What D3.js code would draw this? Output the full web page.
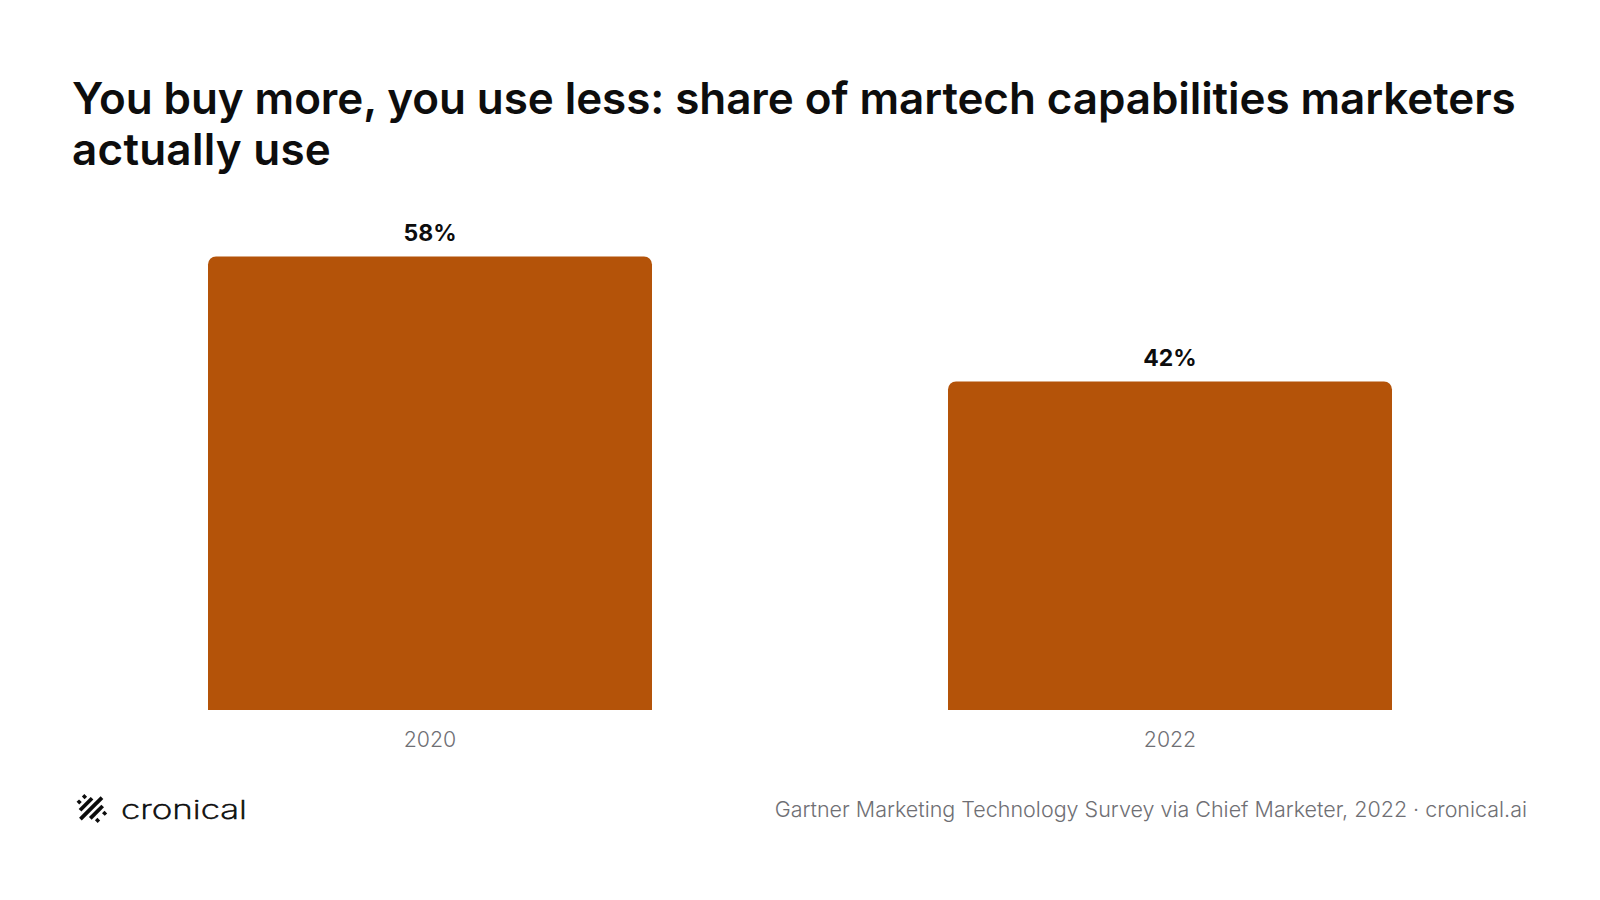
<!DOCTYPE html>
<html>
<head>
<meta charset="utf-8">
<script src="https://cdn.jsdelivr.net/npm/d3@7"></script>
<style>
  html, body { margin: 0; padding: 0; background: #fff; }
  svg { display: block; }
  text { font-family: Inter, "Noto Sans", sans-serif; }
</style>
</head>
<body>
<svg id="chart" width="1600" height="900"></svg>
<script>
const titleLines = ["You buy more, you use less: share of martech capabilities marketers", "actually use"];
const years = ["2020", "2022"];
const shares = [58, 42];
const sourceNote = "Gartner Marketing Technology Survey via Chief Marketer, 2022 · cronical.ai";
const brandName = "cronical";

const svg = d3.select("#chart");
svg.append("rect").attr("width", 1600).attr("height", 900).attr("fill", "#fff");

const x = d3.scaleBand().domain(years).range([60, 1540]).paddingInner(0.4).paddingOuter(0.2);
const y = d3.scaleLinear().domain([0, 58]).range([710, 256.4]);

// Title
svg.append("g").selectAll("text").data(titleLines).join("text")
  .attr("x", 72)
  .attr("y", (d, i) => 114 + i * 51)
  .attr("font-size", 44)
  .attr("font-weight", 600)
  .attr("letter-spacing", (d, i) => i ? "0.25" : "-0.08")
  .attr("fill", "#0d0d0d")
  .text(d => d);

// Bars with rounded top corners and a square base
const r = 8;
svg.append("g").selectAll("path").data(years).join("path")
  .attr("fill", "#b45309")
  .attr("d", (d, i) => {
    const p = d3.path();
    const l = x(d), w = x.bandwidth(), t = y(shares[i]), b = y(0);
    p.moveTo(l, b);
    p.lineTo(l, t + r);
    p.arcTo(l, t, l + r, t, r);
    p.lineTo(l + w - r, t);
    p.arcTo(l + w, t, l + w, t + r, r);
    p.lineTo(l + w, b);
    p.closePath();
    return p.toString();
  });

// Value labels
svg.append("g").selectAll("text").data(years).join("text")
  .attr("x", d => x(d) + x.bandwidth() / 2)
  .attr("y", (d, i) => y(shares[i]) - 15.5)
  .attr("text-anchor", "middle")
  .attr("font-size", 23)
  .attr("font-weight", 700)
  .attr("fill", "#0d0d0d")
  .text((d, i) => shares[i] + "%");

// Category axis, labels only
const axis = svg.append("g")
  .attr("transform", "translate(0,710)")
  .call(d3.axisBottom(x).tickSize(0).tickPadding(22));
axis.select(".domain").remove();
axis.selectAll("text")
  .attr("font-size", 21.3)
  .attr("font-weight", 300)
  .attr("font-family", "Inter, sans-serif")
  .attr("fill", "#6f6f74");

// Source line
svg.append("text")
  .attr("x", 1527).attr("y", 817)
  .attr("text-anchor", "end")
  .attr("font-size", 21.5)
  .attr("font-weight", 300)
  .attr("fill", "#6f6f74")
  .text(sourceNote);

// Brand mark: diagonal hatch, long strokes in the middle, dots toward the corners
const mark = svg.append("g")
  .attr("transform", "translate(91,808.5) rotate(-45)")
  .attr("stroke", "#0d0d0d").attr("stroke-width", 3.8).attr("fill", "none");
const hatch = [
  [-13, -5.5, -2], [-13, 2, 5.5],
  [-6.5, -9, 8],
  [0, -15, 15.5],
  [6.5, -7.5, 10],
  [13, -5.5, -2], [13, 4.5, 8]
];
mark.selectAll("line").data(hatch).join("line")
  .attr("x1", d => d[1]).attr("x2", d => d[2])
  .attr("y1", d => d[0]).attr("y2", d => d[0]);

// Brand wordmark
svg.append("text")
  .attr("x", 121).attr("y", 819)
  .attr("font-family", "'DejaVu Sans', sans-serif")
  .attr("font-weight", 200)
  .attr("font-size", 26)
  .attr("textLength", 126)
  .attr("lengthAdjust", "spacingAndGlyphs")
  .attr("fill", "#0d0d0d")
  .attr("stroke", "#0d0d0d")
  .attr("stroke-width", 0.6)
  .text(brandName);
</script>
</body>
</html>
